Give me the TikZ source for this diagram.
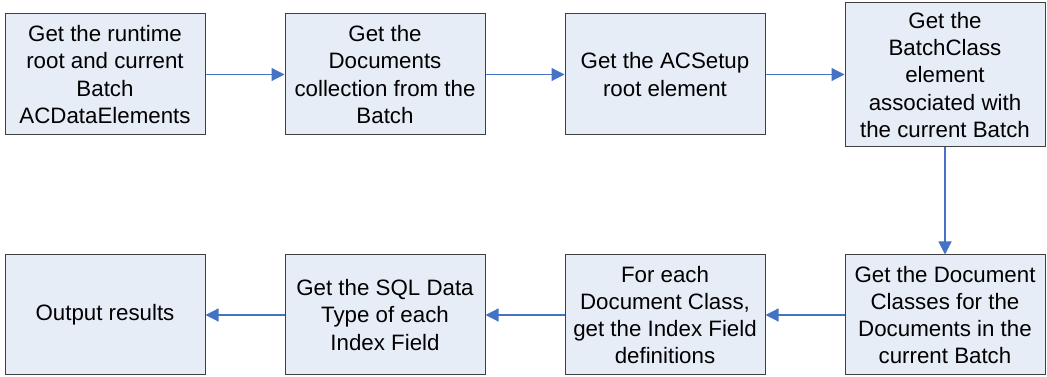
\documentclass[tikz,border=0pt]{standalone}
\usepackage{fontspec}
\setmainfont{Liberation Sans}
\usetikzlibrary{arrows.meta}
\definecolor{boxfill}{RGB}{231,237,247}
\definecolor{boxline}{RGB}{64,64,64}
\definecolor{flowblue}{RGB}{68,114,196}

\begin{document}
\begin{tikzpicture}[x=1pt, y=1pt,
    stepbox/.style={draw=boxline, fill=boxfill, line width=1pt, minimum width=200pt,
        minimum height=121pt, align=center, inner sep=2pt,
        font=\fontsize{22.3pt}{27.2pt}\selectfont},
    flow/.style={draw=flowblue, line width=1.2pt, -{Triangle[length=13pt, width=13pt]}}]
        \useasboundingbox (0, 0) rectangle (1047, 377);

        \node[stepbox] (root) at (105, 302.5) {Get the runtime\\root and current\\Batch\\ACDataElements};
        \node[stepbox] (docs) at (385, 302.5) {Get the\\Documents\\collection from the\\Batch};
        \node[stepbox] (setup) at (665, 302.5) {Get the ACSetup\\root element};
        \node[stepbox, minimum height=144pt] (batchclass) at (945, 302) {Get the\\BatchClass\\element\\associated with\\the current Batch};

        \node[stepbox, minimum height=120pt] (docclass) at (945, 62) {Get the Document\\Classes for the\\Documents in the\\current Batch};
        \node[stepbox, minimum height=120pt] (fields) at (665, 62) {For each\\Document Class,\\get the Index Field\\definitions};
        \node[stepbox, minimum height=120pt] (sqltype) at (385, 62) {Get the SQL Data\\Type of each\\Index Field};
        \node[stepbox, minimum height=120pt] (output) at (105, 62) {Output results};

        \draw[flow] (root) -- (docs);
        \draw[flow] (docs) -- (setup);
        \draw[flow] (setup) -- (setup -| batchclass.west);
        \draw[flow] (batchclass) -- (docclass);
        \draw[flow] (docclass) -- (fields);
        \draw[flow] (fields) -- (sqltype);
        \draw[flow] (sqltype) -- (output);
    \end{tikzpicture}
\end{document}
